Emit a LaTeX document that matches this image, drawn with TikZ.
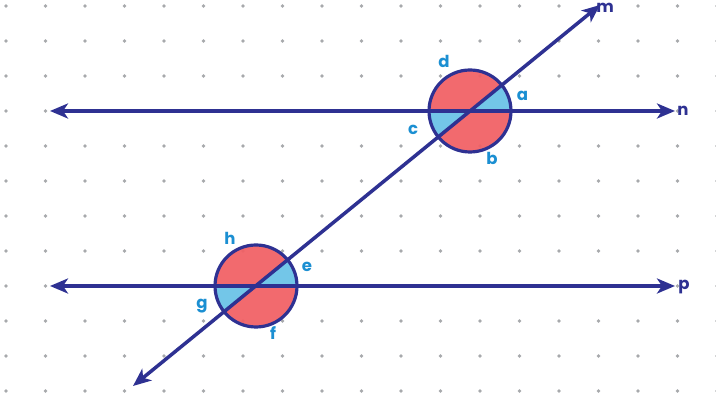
\documentclass[tikz,border=0pt]{standalone}
\usepackage{fontspec}
\setmainfont{Poppins}
\usetikzlibrary{arrows.meta, calc}
\definecolor{linenavy}{HTML}{2E3192}
\definecolor{anglered}{HTML}{F25F63}
\definecolor{angleblue}{HTML}{6ACDF2}
\definecolor{lblblue}{HTML}{1B8FD2}
\definecolor{dotgray}{HTML}{A7A9AC}
\tikzset{
  gridpt/.style={fill=dotgray},
  redpart/.style={fill=anglered, fill opacity=0.93},
  bluepart/.style={fill=angleblue, fill opacity=0.93},
  ring/.style={draw=linenavy, line width=3.2pt},
  ray/.style={{Stealth[length=18pt, width=15pt, inset=5pt]}-{Stealth[length=18pt, width=15pt, inset=5pt]},
              line width=3.5pt, draw=linenavy},
  anglbl/.style={font=\fontsize{16.5}{16.5}\selectfont\bfseries, text=lblblue, anchor=base, inner sep=0pt},
  linelbl/.style={anglbl, text=linenavy},
}
\begin{document}
\begin{tikzpicture}[x=1pt, y=1pt]
  \useasboundingbox (0,0) rectangle (716,401);
  \fill[white] (0,0) rectangle (716,401);

  % dotted paper
  \foreach \i in {0,...,18}
    \foreach \j in {0,...,11}
      \fill[gridpt] (6+39.5*\i, 395-35*\j) circle (1.9);

  % crossing points
  \coordinate (A) at (470,290);
  \coordinate (B) at (256,115);
  \coordinate (nL) at (50,290);
  \coordinate (nR) at (675,290);
  \coordinate (pL) at (50,115);
  \coordinate (pR) at (675,115);
  \coordinate (mT) at (600,396);
  \coordinate (mB) at (133,15);

  % angle sectors
  \foreach \c in {A,B}{
    \fill[redpart] (\c) circle (41);
    \fill[bluepart] (\c) -- ++(0:41) arc (0:39.3:41) -- cycle;
    \fill[bluepart] (\c) -- ++(180:41) arc (180:219.3:41) -- cycle;
  }

  \draw[ray] (nL) -- (nR);
  \draw[ray] (pL) -- (pR);
  \draw[ray] (mB) -- (mT);
  \draw[ring] (A) circle (41);
  \draw[ring] (B) circle (41);

  % labels
  \node[linelbl] (lm) at (605,388) {m};
  \node[linelbl] (ln) at (683,285) {n};
  \node[linelbl] (lp) at (684,111) {p};
  \node[anglbl] (la) at (522.5,300) {a};
  \node[anglbl] (lb) at (492,236) {b};
  \node[anglbl] (lc) at (413,266) {c};
  \node[anglbl] (ld) at (444,333) {d};
  \node[anglbl] (le) at (307,129) {e};
  \node[anglbl] (lf) at (273,61) {f};
  \node[anglbl] (lg) at (202,92) {g};
  \node[anglbl] (lh) at (230,156) {h};
\end{tikzpicture}
\end{document}
